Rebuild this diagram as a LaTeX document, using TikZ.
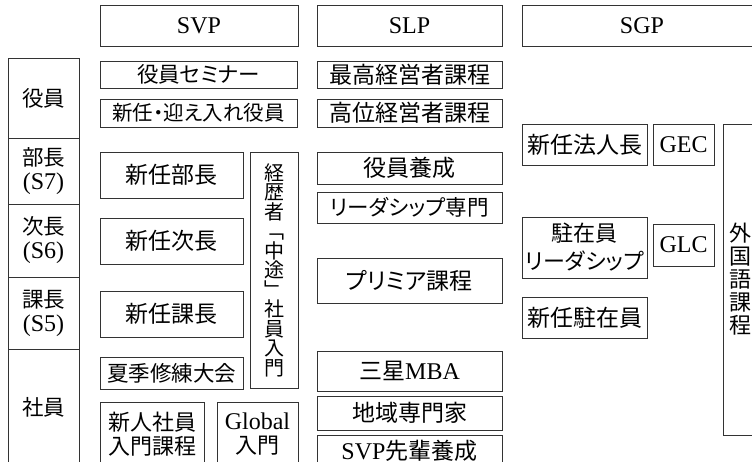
\documentclass[tikz,border=0pt]{standalone}
\usepackage{fontspec}
\newfontfamily\jp[RawFeature=+palt]{Noto Sans CJK JP}
\newfontfamily\lat{Liberation Serif}
\tikzset{
  bx/.style={draw=black!80, line width=0.8pt, inner sep=0pt, outer sep=0pt,
    anchor=north west, align=center, font=\jp\fontsize{23}{25}\selectfont},
  lt/.style={font=\lat\fontsize{24}{26}\selectfont},
  lf/.style={font=\jp\fontsize{21.5}{24}\selectfont},
  sm/.style={font=\jp\fontsize{20.5}{23}\selectfont},
  two/.style={font=\jp\fontsize{22}{23.5}\selectfont},
  vt/.style={font=\jp\fontsize{20}{19.5}\selectfont},
  vt2/.style={font=\jp\fontsize{22}{23}\selectfont},
}
% [opts]{name}{x1}{y1}{x2}{y2}{text}
\newcommand\Bx[7][]{\node[bx,#1,minimum width=#5-#3, minimum height=#6-#4] (#2) at (#3,-#4) {#7};}
\newcommand\lt[1]{{\lat\fontsize{24}{26}\selectfont #1}}
\begin{document}
\begin{tikzpicture}[x=1pt,y=1pt]
\useasboundingbox (0,0) rectangle (752,-461);
\fill[white] (0,0) rectangle (752,-461);
\clip (0,0) rectangle (752,-461);
% headers
\Bx[lt]{hSVP}{100}{5}{298}{46}{SVP}
\Bx[lt]{hSLP}{317}{5}{502}{46}{SLP}
\Bx[lt]{hSGP}{522}{5}{762}{46}{SGP}
% left column
\Bx[lf]{lYakuin}{8}{58}{79}{138}{役員}
\Bx[lf]{lBucho}{8}{138}{79}{204}{部長\\\lt{(S7)}}
\Bx[lf]{lJicho}{8}{204}{79}{277}{次長\\\lt{(S6)}}
\Bx[lf]{lKacho}{8}{277}{79}{349}{課長\\\lt{(S5)}}
\Bx[lf]{lShain}{8}{349}{79}{466}{社員}
% SVP column
\Bx[lf]{sSem}{100}{61}{297}{88}{役員セミナー}
\Bx[sm]{sNew}{100}{99}{297}{127}{新任・迎え入れ役員}
\Bx{sBu}{100}{152}{243}{198}{新任部長}
\Bx{sJi}{100}{218}{243}{264}{新任次長}
\Bx{sKa}{100}{291}{243}{337}{新任課長}
\Bx[vt]{sKei}{250}{152}{298}{388}{経\\歴\\者\\﹁\\中\\途\\﹂\\社\\員\\入\\門}
\Bx[lf]{sNatsu}{100}{357}{243}{389}{夏季修練大会}
\Bx[two]{sShin}{100}{402}{204}{466}{新人社員\\入門課程}
\Bx[two]{sGlob}{217}{402}{298}{466}{\lt{Global}\\入門}
% SLP column
\Bx{p1}{317}{61}{502}{88}{最高経営者課程}
\Bx{p2}{317}{99}{502}{127}{高位経営者課程}
\Bx{p3}{317}{152}{502}{184}{役員養成}
\Bx[lf]{p4}{317}{192}{502}{223}{リーダシップ専門}
\Bx{p5}{317}{258}{502}{303}{プリミア課程}
\Bx{p6}{317}{351}{502}{391}{三星\lt{MBA}}
\Bx{p7}{317}{396}{502}{430}{地域専門家}
\Bx{p8}{317}{435}{502}{466}{\lt{SVP}先輩養成}
% SGP column
\Bx{g1}{522}{124}{647}{165}{新任法人長}
\Bx[lt]{g2}{653}{124}{714}{165}{GEC}
\Bx[vt2]{g3}{723}{124}{757}{435}{外\\国\\語\\課\\程}
\Bx[font=\jp\fontsize{22}{28}\selectfont]{g4}{522}{217}{647}{278}{駐在員\\リーダシップ}
\Bx[lt]{g5}{653}{224}{714}{266}{GLC}
\Bx{g6}{522}{297}{647}{338}{新任駐在員}
\end{tikzpicture}
\end{document}
